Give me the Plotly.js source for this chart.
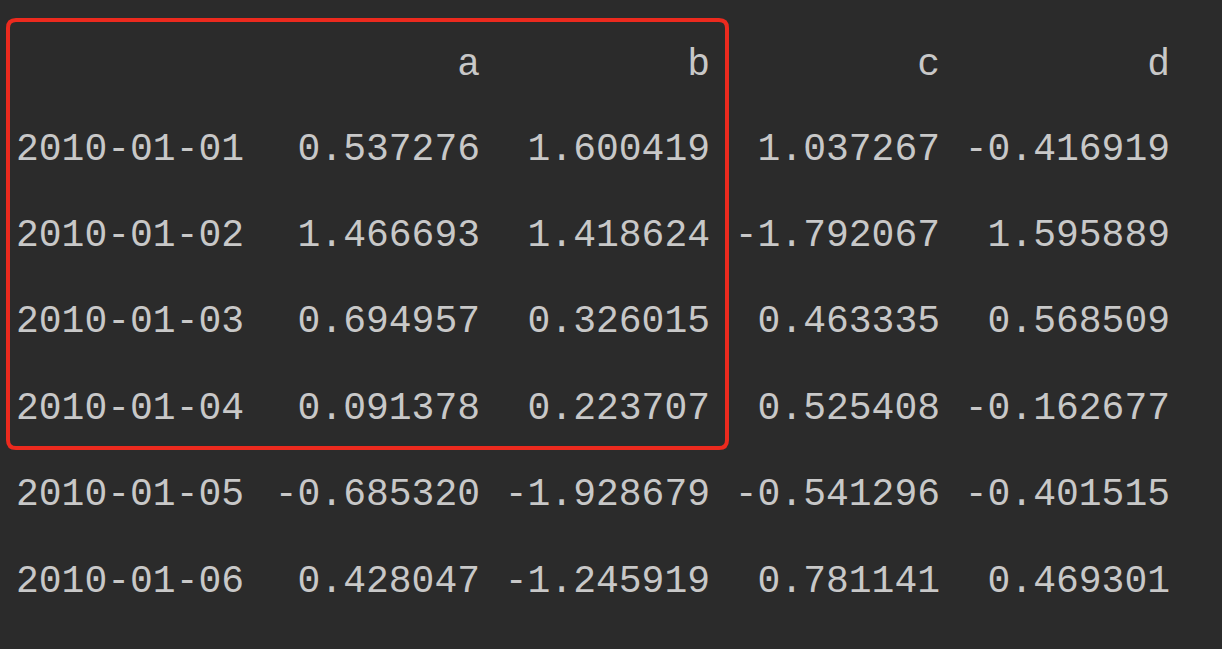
<!DOCTYPE html>
<html>
<head>
<meta charset="utf-8">
<script src="https://cdn.plot.ly/plotly-3.0.1.min.js"></script>
<style>html,body{margin:0;padding:0;background:#2b2b2b;}</style>
</head>
<body>
<div id="chart" style="width:1222px;height:649px;"></div>
<script>
var columns = ['a', 'b', 'c', 'd'];
var dates = ['2010-01-01', '2010-01-02', '2010-01-03', '2010-01-04', '2010-01-05', '2010-01-06'];
var colA = ['0.537276', '1.466693', '0.694957', '0.091378', '-0.685320', '0.428047'];
var colB = ['1.600419', '1.418624', '0.326015', '0.223707', '-1.928679', '-1.245919'];
var colC = ['1.037267', '-1.792067', '0.463335', '0.525408', '-0.541296', '0.781141'];
var colD = ['-0.416919', '1.595889', '0.568509', '-0.162677', '-0.401515', '0.469301'];
var values = [colA, colB, colC, colD];

var font = {family: 'Liberation Mono, DejaVu Sans Mono, monospace', size: 38, color: '#c8c8c8'};
var rowY = function (i) { return 150 + 86.4 * i; };
var colX = function (j) { return 480 + 230 * j; };

var data = [];
// header row
data.push({
  type: 'scatter', mode: 'text',
  x: columns.map(function (c, j) { return colX(j); }),
  y: columns.map(function () { return 65; }),
  text: columns, textposition: 'middle left', textfont: font, hoverinfo: 'skip'
});
// index column
data.push({
  type: 'scatter', mode: 'text',
  x: dates.map(function () { return 16; }),
  y: dates.map(function (d, i) { return rowY(i); }),
  text: dates, textposition: 'middle right', textfont: font, hoverinfo: 'skip'
});
values.forEach(function (col, j) {
  data.push({
    type: 'scatter', mode: 'text',
    x: col.map(function () { return colX(j); }),
    y: col.map(function (v, i) { return rowY(i); }),
    text: col, textposition: 'middle left', textfont: font, hoverinfo: 'skip'
  });
});

var x0 = 8, x1 = 727, y0 = 20, y1 = 448, r = 8;
var layout = {
  width: 1222, height: 649,
  paper_bgcolor: '#2b2b2b', plot_bgcolor: '#2b2b2b',
  showlegend: false,
  margin: {l: 0, r: 0, t: 0, b: 0, pad: 0},
  xaxis: {range: [0, 1222], visible: false, fixedrange: true},
  yaxis: {range: [649, 0], visible: false, fixedrange: true},
  shapes: [{
    type: 'path',
    path: 'M' + (x0 + r) + ',' + y0 + ' L' + (x1 - r) + ',' + y0 + ' Q' + x1 + ',' + y0 + ' ' + x1 + ',' + (y0 + r) +
      ' L' + x1 + ',' + (y1 - r) + ' Q' + x1 + ',' + y1 + ' ' + (x1 - r) + ',' + y1 +
      ' L' + (x0 + r) + ',' + y1 + ' Q' + x0 + ',' + y1 + ' ' + x0 + ',' + (y1 - r) +
      ' L' + x0 + ',' + (y0 + r) + ' Q' + x0 + ',' + y0 + ' ' + (x0 + r) + ',' + y0 + ' Z',
    line: {color: '#ec2a1e', width: 4}
  }]
};

Plotly.newPlot('chart', data, layout, {staticPlot: true});
</script>
</body>
</html>
